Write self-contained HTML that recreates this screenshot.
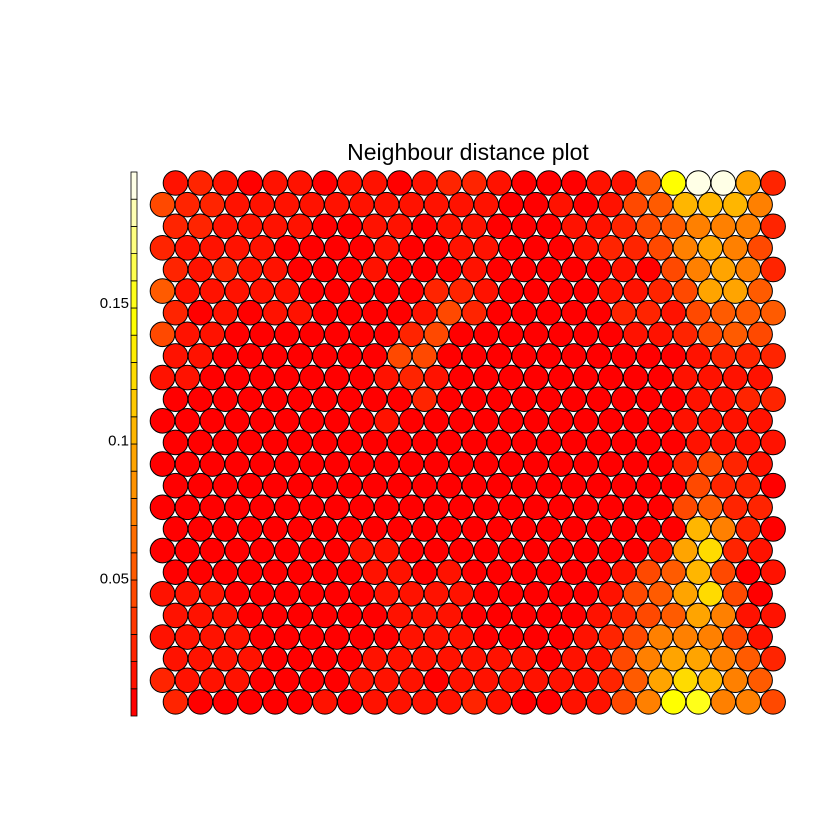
<!DOCTYPE html>
<html><head><meta charset="utf-8"><style>
html,body{margin:0;padding:0;background:#fff;}
svg{display:block;font-family:"Liberation Sans",sans-serif;}
</style></head><body>
<svg id="chart" width="840" height="840" viewBox="0 0 840 840">
<rect width="840" height="840" fill="#fff"/>
<text x="468" y="160" text-anchor="middle" font-size="23">Neighbour distance plot</text>
<g id="cells"></g>
<g id="cbar"></g>
</svg>
<script>
// Neighbour distances per unit, in units of 1e-3, rows listed top to bottom
const row0  = [12,22,12,5,12,12,5,12,12,5,12,22,22,12,5,5,5,12,12,54,143,192,192,94,22];
const row1  = [44,22,22,12,12,12,12,12,12,12,12,12,12,12,5,5,12,5,12,44,54,104,104,104,74];
const row2  = [22,22,12,12,12,12,5,5,12,12,5,12,12,5,5,5,12,12,22,44,54,74,74,74,22];
const row3  = [22,12,12,12,12,5,5,5,5,12,5,5,12,12,5,5,5,12,22,22,44,74,94,74,44];
const row4  = [22,12,22,12,12,5,5,5,12,5,5,5,12,5,5,5,5,5,12,5,44,74,94,74,22];
const row5  = [54,12,12,12,12,12,5,5,5,5,5,22,22,12,5,5,5,5,12,12,22,44,94,94,54];
const row6  = [22,5,12,5,12,12,5,5,5,5,12,44,22,5,5,5,5,5,22,22,12,44,54,54,54];
const row7  = [44,12,12,5,5,5,5,5,5,5,22,44,5,5,5,5,5,5,5,12,12,22,44,54,44];
const row8  = [12,12,5,5,5,5,5,5,5,44,44,5,5,5,5,5,5,5,5,5,5,12,22,22,22];
const row9  = [12,12,5,5,5,5,5,5,5,12,22,12,5,5,5,5,5,5,5,5,5,12,12,12,12];
const row10 = [5,5,5,5,5,5,5,5,5,5,22,5,5,5,5,5,5,5,5,5,5,12,12,22,22];
const row11 = [5,5,5,5,5,5,5,5,5,12,5,5,5,5,5,5,5,5,5,5,5,12,12,12,12];
const row12 = [5,5,5,5,5,5,5,5,5,5,5,5,5,5,5,5,5,5,5,5,5,12,12,12,12];
const row13 = [5,5,5,5,5,5,5,5,5,5,5,5,5,5,5,5,5,5,5,5,5,22,44,22,12];
const row14 = [5,5,5,5,5,5,5,5,5,5,5,5,5,5,5,5,5,5,5,5,5,44,22,22,5];
const row15 = [5,5,5,5,5,5,5,5,5,5,5,5,5,5,5,5,5,5,5,5,5,44,54,22,22];
const row16 = [5,5,5,5,5,5,5,5,5,5,5,5,5,5,5,5,5,5,5,5,5,104,74,22,5];
const row17 = [5,5,5,5,5,5,5,5,12,12,5,5,5,5,5,5,5,5,5,5,12,94,123,22,12];
const row18 = [5,5,5,5,5,5,5,5,12,12,5,12,5,5,5,5,5,5,12,44,54,104,44,5,12];
const row19 = [12,12,12,5,5,5,5,5,5,12,12,12,12,5,5,5,5,5,12,44,54,94,123,44,5];
const row20 = [12,12,12,5,5,5,5,5,5,12,12,12,5,5,5,5,5,12,22,44,54,94,74,12,12];
const row21 = [12,12,12,12,5,5,5,5,5,5,12,12,12,5,5,5,5,12,22,44,74,74,74,44,12];
const row22 = [12,12,12,12,5,5,5,5,12,12,12,12,12,12,12,5,12,12,44,74,94,94,74,54,22];
const row23 = [22,12,12,12,5,5,5,5,12,12,12,5,12,12,12,12,12,12,22,54,94,123,104,74,54];
const row24 = [22,5,5,5,5,5,12,5,12,12,12,12,22,12,5,5,12,12,44,74,143,153,74,74,44];
const distanceRows = [row0,row1,row2,row3,row4,row5,row6,row7,row8,row9,row10,row11,row12,row13,row14,row15,row16,row17,row18,row19,row20,row21,row22,row23,row24];
const legendTicks = [0.05, 0.1, 0.15];
const legendLabels = ["0.05", "0.1", "0.15"];
const legendMax = 0.1975;
const nColors = 20;

const NS = "http://www.w3.org/2000/svg";
function heatColor(k){
  const n = nColors, j = Math.floor(n/4), i = n - j;
  if (k < i){
    const h = (k/(i-1))*60;
    return hsv(h,1,1);
  }
  const idx = k - i;
  const s = (1-1/(2*j)) - idx*((1-1/j)/(j-1));
  return hsv(60,s,1);
}
function hsv(h,s,v){
  const f=(n)=>{const k=(n+h/60)%6;return v - v*s*Math.max(Math.min(k,4-k,1),0);};
  const c=x=>Math.round(x*255);
  return `rgb(${c(f(5))},${c(f(3))},${c(f(1))})`;
}
function colorIndex(val){ return Math.max(0, Math.min(nColors-1, Math.floor(val/legendMax*nColors))); }
// axis functions
const xStart=175.5, xOdd=162.5, dx=24.9, yTop=183, dy=21.62;
function cx(r,c){ return (r%2===0?xStart:xOdd) + c*dx; }
function cy(r){ return yTop + r*dy; }
const cbTop=172, cbBot=716, cbX=131, cbW=6;
function cbY(v){ return cbBot - v/legendMax*(cbBot-cbTop); }

const cells=document.getElementById('cells');
distanceRows.forEach((row,r)=>{
  row.forEach((d,c)=>{
    const el=document.createElementNS(NS,'circle');
    el.setAttribute('cx',cx(r,c));
    el.setAttribute('cy',cy(r));
    el.setAttribute('r',12.3);
    el.setAttribute('fill',heatColor(colorIndex(d/1000)));
    el.setAttribute('stroke','#000');
    el.setAttribute('stroke-width','1');
    
    
    cells.appendChild(el);
  });
});
const cb=document.getElementById('cbar');
for(let k=0;k<nColors;k++){
  const y1=cbY((k+1)*legendMax/nColors), y0=cbY(k*legendMax/nColors);
  const el=document.createElementNS(NS,'rect');
  el.setAttribute('x',cbX); el.setAttribute('y',y1);
  el.setAttribute('width',cbW); el.setAttribute('height',y0-y1);
  el.setAttribute('fill',heatColor(k)); el.setAttribute('stroke','#000'); el.setAttribute('stroke-width','0.8');
  
  
  cb.appendChild(el);
}
legendTicks.forEach((v,i)=>{
  const y=cbY(v);
  const tx=document.createElementNS(NS,'text');
  tx.setAttribute('x',cbX-2); tx.setAttribute('y',y+5);
  tx.setAttribute('text-anchor','end'); tx.setAttribute('font-size','15');
  tx.textContent=legendLabels[i];
  
  
  cb.appendChild(tx);
});
</script>
</body></html>
